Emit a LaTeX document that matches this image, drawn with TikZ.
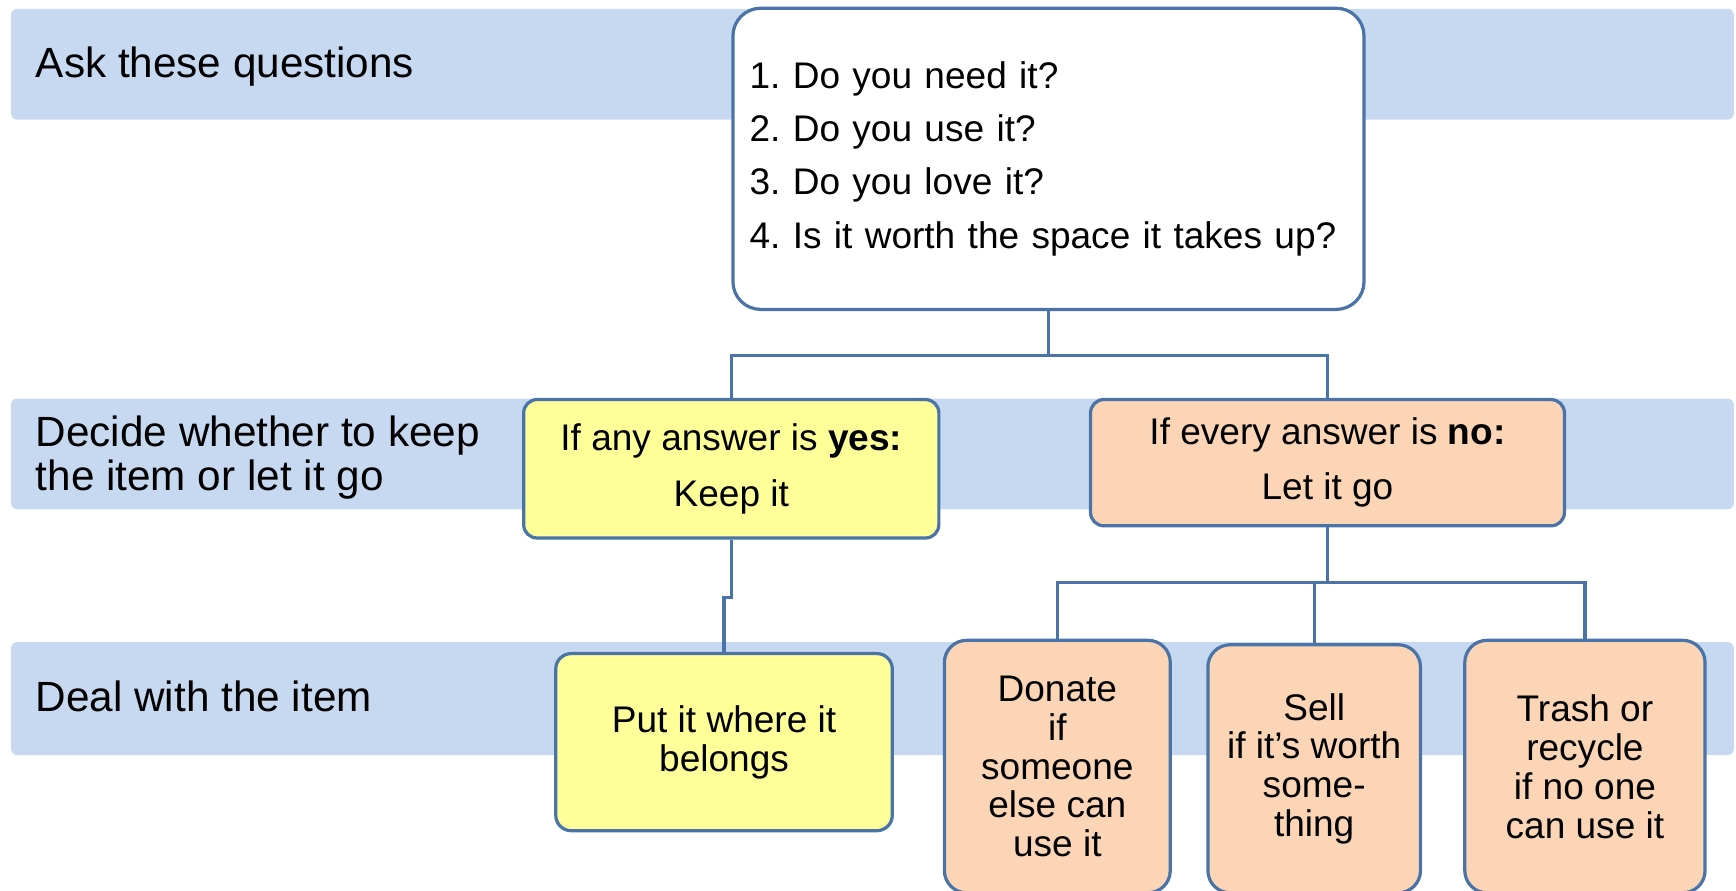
\documentclass[tikz,border=0pt]{standalone}
\usepackage{fontspec}
\setmainfont{Liberation Sans}
\frenchspacing

\definecolor{bandblue}{HTML}{C6D9F1}
\definecolor{lineblue}{HTML}{4A74A8}
\definecolor{keepyellow}{HTML}{FFFF99}
\definecolor{letgopeach}{HTML}{FBD5B5}

\tikzset{
	band/.style={fill=bandblue,rounded corners=3pt},
	bandlabel/.style={anchor=base west,align=left,inner sep=0pt,font=\fontsize{21}{22}\selectfont},
	box/.style={draw=lineblue,line width=1.6pt,anchor=north,align=center,inner sep=0pt,font=\fontsize{18.4}{19.3}\selectfont},
	keep/.style={box,fill=keepyellow},
	letgo/.style={box,fill=letgopeach},
	elbow/.style={edge from parent path={(\tikzparentnode.south) -- ++(0,-#1) -| (\tikzchildnode.north)}}
}

\begin{document}
\begin{tikzpicture} [x=0.55pt,y=-0.55pt,grow=down,edge from parent/.style={draw=lineblue,line width=1.6pt},level 1/.style={level distance=118.8pt,elbow=22pt},level 2/.style={level distance=87.45pt,elbow=27.5pt}]
		\useasboundingbox (0,0) rectangle (1568,804);
		% the three stages
		\fill[band] (10,8) rectangle (1566,108);
		\fill[band] (10,360) rectangle (1566,460);
		\fill[band] (10,580) rectangle (1566,682);
		\node[bandlabel] (ask) at (32,70) {Ask these questions};
		\node[bandlabel] (decide) at (32,443) {Decide whether to keep\\the item or let it go};
		\node[bandlabel] (deal) at (32,643) {Deal with the item};
		% the decision tree
		\node[box,fill=white,rounded corners=13.75pt,minimum width=313.5pt,minimum height=149.6pt,text width=297pt,inner xsep=8.25pt,align=left,font=\fontsize{18.4}{26.4}\selectfont] (questions) at (947,6)
			{1. Do you need it?\\2. Do you use it?\\3. Do you love it?\\4. Is it worth the space it takes up?}
			child [sibling distance=315.15pt]
			{
				node[keep,rounded corners=6.6pt,minimum width=206.25pt,minimum height=68.75pt,font=\fontsize{18.4}{27.5}\selectfont] (keepit) {If any answer is \textbf{yes:}\\Keep it}
				child [level distance=91pt,elbow=28.6pt]
				{
					node[keep,rounded corners=7.7pt,minimum width=167.2pt,minimum height=88pt,xshift=-3.6pt] (put) {Put it where it\\belongs}
				}
			}
			child [sibling distance=277.2pt]
			{
				node[letgo,rounded corners=6.6pt,minimum width=235.4pt,minimum height=62.7pt,font=\fontsize{18.4}{27.5}\selectfont] (letgoit) {If every answer is \textbf{no:}\\Let it go}
				child [sibling distance=134.2pt]
				{
					node[letgo,rounded corners=11pt,minimum width=112.2pt,minimum height=125.4pt] (donate) {Donate\\if\\someone\\else can\\use it}
				}
				child
				{
					node[letgo,rounded corners=11pt,minimum width=105.6pt,minimum height=123.2pt,xshift=-6.6pt,yshift=-2.2pt] (sell) {Sell\\if it's worth\\some-\\thing}
				}
				child [sibling distance=127.9pt]
				{
					node[letgo,rounded corners=11pt,minimum width=119.35pt,minimum height=125.4pt] (trash) {Trash or\\recycle\\if no one\\can use it}
				}
			};
\end{tikzpicture}
\end{document}
